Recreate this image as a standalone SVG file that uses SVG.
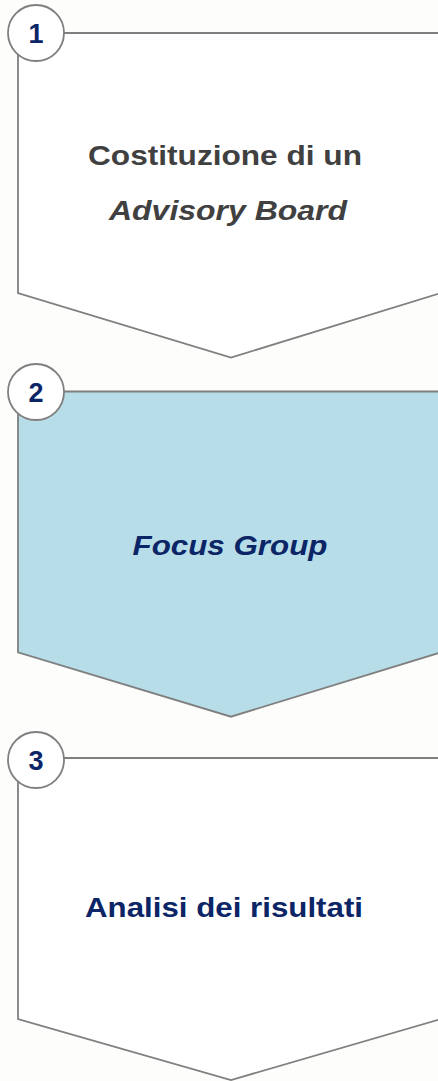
<svg xmlns="http://www.w3.org/2000/svg" width="438" height="1081" viewBox="0 0 438 1081">
<style>
.bg{fill:#FDFDFB}
.shape{stroke:#7F7F7F;stroke-width:1.8;stroke-linejoin:miter}
.white{fill:#FFFFFF}
.blue{fill:#B7DDE8}
.circ{fill:#FFFFFF;stroke:#7F7F7F;stroke-width:1.8}
.num{font-family:"Liberation Sans",Arial,sans-serif;font-weight:bold;font-size:27px;fill:#0B2566;text-anchor:middle}
.lbl{font-family:"Liberation Sans",Arial,sans-serif;font-weight:bold;font-size:28px;text-anchor:middle}
.gray{fill:#404040}
.navy{fill:#0B2566}
</style>
<rect class="bg" x="0" y="0" width="438" height="1081"/>
<g id="connectors"></g>
<g id="step1">
<path class="shape white" d="M18,33 L441,33 L441,293 L231,357.5 L18,293 Z"/>
<circle class="circ" cx="36" cy="33" r="28"/>
<text class="num" x="36" y="43">1</text>
<text class="lbl gray" x="225" y="165" textLength="274" lengthAdjust="spacingAndGlyphs">Costituzione di un</text>
<text class="lbl gray" x="228" y="220" font-style="italic" textLength="238" lengthAdjust="spacingAndGlyphs">Advisory Board</text>
</g>
<g id="step2">
<path class="shape blue" d="M18,391.5 L441,391.5 L441,652.3 L231,716.7 L18,652.3 Z"/>
<circle class="circ" cx="36" cy="392" r="28"/>
<text class="num" x="36" y="402">2</text>
<text class="lbl navy" x="230" y="555" font-style="italic" textLength="195" lengthAdjust="spacingAndGlyphs">Focus Group</text>
</g>
<g id="step3">
<path class="shape white" d="M18,758 L441,758 L441,1019 L231,1080 L18,1019 Z"/>
<circle class="circ" cx="36" cy="760" r="28"/>
<text class="num" x="36" y="770">3</text>
<text class="lbl navy" x="224" y="917" textLength="278" lengthAdjust="spacingAndGlyphs">Analisi dei risultati</text>
</g>
</svg>
